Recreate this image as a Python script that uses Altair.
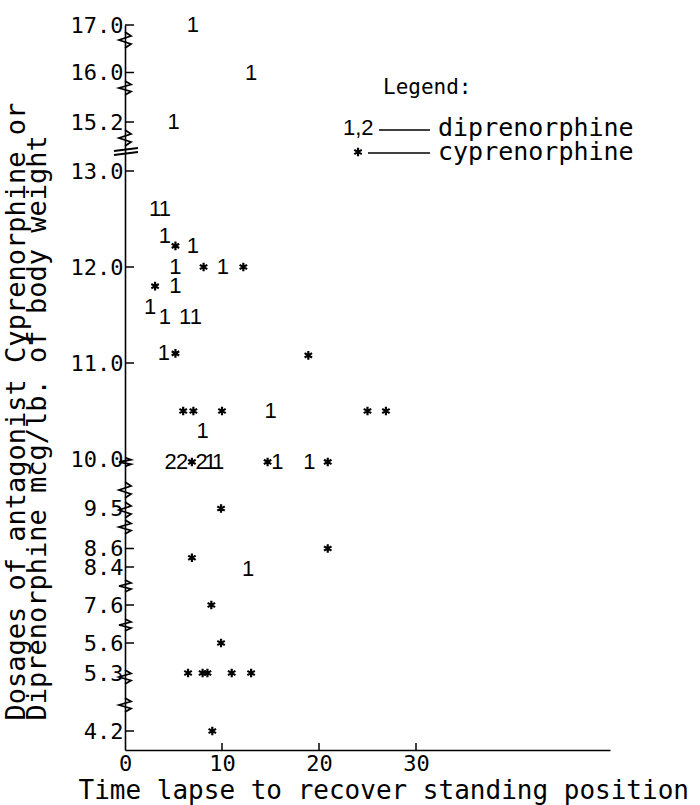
import altair as alt
import numpy as np
import pandas as pd

# ---------------- data ----------------
dip_time = [7.0, 13.0, 5.0, 3.1, 4.1, 4.1, 7.0, 5.2, 10.1, 5.2, 2.6, 4.1, 6.2, 7.3,
            4.0, 15.0, 8.0, 4.7, 5.9, 7.9, 8.8, 9.6, 15.7, 19.0, 12.7]
dip_dose = [17.0, 16.0, 15.2, 12.6, 12.6, 12.32, 12.22, 12.0, 12.0, 11.8, 11.58, 11.48, 11.48, 11.48,
            11.1, 10.5, 10.29, 9.97, 9.97, 9.97, 9.97, 9.97, 9.97, 9.97, 8.35]
dip_label = ["1", "1", "1", "1", "1", "1", "1", "1", "1", "1", "1", "1", "1", "1",
             "1", "1", "1", "2", "2", "2", "1", "1", "1", "1", "1"]

cyp_time = [5.2, 8.1, 12.2, 3.1, 5.2, 18.9, 6.0, 7.05, 10.0, 25.0, 26.9, 6.9, 14.7, 20.9,
            9.9, 6.9, 20.9, 8.9, 9.9, 6.5, 8.0, 8.5, 11.0, 13.0, 9.0]
cyp_dose = [12.22, 12.0, 12.0, 11.8, 11.1, 11.08, 10.5, 10.5, 10.5, 10.5, 10.5, 9.97, 9.97, 9.97,
            9.5, 8.5, 8.6, 7.6, 5.6, 5.3, 5.3, 5.3, 5.3, 5.3, 4.2]

y_tick_values = [17.0, 16.0, 15.2, 13.0, 12.0, 11.0, 10.0, 9.5, 8.6, 8.4, 7.6, 5.6, 5.3, 4.2]
y_tick_marks = [17.0, 16.0, 15.2, 13.0, 12.0, 11.0, 8.6, 8.4, 7.6, 5.6, 4.2]
x_tick_values = [0, 10, 20, 30]

x_title = "Time lapse to recover standing position"
y_title = ["Dosages of antagonist Cyprenorphine or", "Diprenorphine mcg/lb. of body weight"]
legend_heading = "Legend:"
legend_keys = ["1,2", "*"]
legend_names = ["diprenorphine", "cyprenorphine"]

# ---------------- layout ----------------
PAD_L, PAD_T = 125, 20
W, H = 485, 730
X_MAX = 50
PX_PER_T = W / X_MAX
# broken (piecewise) dosage axis: domain breakpoints -> pixel rows
y_domain = [3.85, 4.2, 5.3, 5.6, 7.6, 8.4, 8.6, 9.5, 10.0, 13.0, 15.2, 16.0, 17.0]
y_range = [730, 711, 653, 623, 585, 547, 528.5, 488.5, 439, 151, 102, 52.5, 5]

FONT = "DejaVu Sans Mono"
MARK_FONT = "Liberation Sans"
STAR = "M0,-1L0,1M-0.866,-0.5L0.866,0.5M-0.866,0.5L0.866,-0.5"

xs = alt.Scale(domain=[0, X_MAX], range=[0, W], nice=False, zero=False)
ys = alt.Scale(domain=y_domain, range=y_range, nice=False, zero=False)

x_axis = alt.Axis(
    values=x_tick_values, title=x_title, format="d", ticks=False, grid=False,
    domainColor="black", domainWidth=1.6, labelFont=FONT, labelFontSize=22, labelColor="black",
    labelPadding=3, labelFlush=False, titleFont=FONT, titleFontSize=26, titleFontWeight="normal",
    titleColor="black", titleAnchor="start", titleAlign="left", titleX=-47, titleY=40,
    titleBaseline="middle")
y_axis = alt.Axis(
    values=y_tick_values, format=".1f", ticks=False, grid=False, labelOverlap=False,
    domainColor="black", domainWidth=1.6, labelFont=FONT, labelFontSize=22, labelColor="black",
    labelPadding=2, labelFlush=False, title=y_title, titleFont=FONT, titleFontSize=27,
    titleFontWeight="normal", titleColor="black", titleAngle=270, titleAlign="left",
    titleBaseline="top", titleAnchor="start", titleX=-122, titleY=700, titleLineHeight=21)

px_inc = y_range[::-1]
dose_inc = y_domain[::-1]


def px_to_dose(py):
    return float(np.interp(py, px_inc, dose_inc))


# axis-break zigzags (decoration), centres/heights in plot pixels
breaks = [(20, 16), (68, 14), (118, 16), (442, 9), (470, 16), (490, 16), (507, 14), (566, 12),
          (605, 12), (657, 14), (685, 14)]
zig_rows = []
for g, (c, h) in enumerate(breaks):
    n = 3
    pts = [(0.0, c - h / 2)]
    for k in range(1, n + 1):
        pts.append((6 if k % 2 else -6, c - h / 2 + h * k / (n + 1)))
    pts.append((0.0, c + h / 2))
    for i, (dx, py) in enumerate(pts):
        zig_rows.append({"g": g, "i": i, "t": dx / PX_PER_T, "dose": px_to_dose(py)})
# the double slash across the axis between 15.2 and 13.0
for g, (x0, y0, x1, y1) in enumerate([(-11, 131, 13, 128), (-11, 135, 13, 132)]):
    zig_rows.append({"g": 100 + g, "i": 0, "t": x0 / PX_PER_T, "dose": px_to_dose(y0)})
    zig_rows.append({"g": 100 + g, "i": 1, "t": x1 / PX_PER_T, "dose": px_to_dose(y1)})
zig = pd.DataFrame(zig_rows)

dip = pd.DataFrame({"t": dip_time, "dose": dip_dose, "sym": dip_label})
cyp = pd.DataFrame({"t": cyp_time, "dose": cyp_dose})

# ---------------- layers ----------------
dip_layer = alt.Chart(dip).mark_text(font=MARK_FONT, fontSize=22, color="black", baseline="middle").encode(
    x=alt.X("t:Q", scale=xs, axis=x_axis),
    y=alt.Y("dose:Q", scale=ys, axis=y_axis),
    text="sym:N",
)

cyp_layer = alt.Chart(cyp).mark_point(shape=STAR, filled=False, color="black", strokeWidth=2.2,
                                      size=75, opacity=1).encode(
    x=alt.X("t:Q", scale=xs, axis=x_axis),
    y=alt.Y("dose:Q", scale=ys, axis=y_axis),
)

ytick_layer = alt.Chart(pd.DataFrame({"dose": y_tick_marks})).mark_rule(color="black", strokeWidth=1.5).encode(
    y=alt.Y("dose:Q", scale=ys, axis=y_axis), x=alt.value(0), x2=alt.value(9))

xtick_layer = alt.Chart(pd.DataFrame({"t": x_tick_values[1:]})).mark_rule(color="black", strokeWidth=1.5).encode(
    x=alt.X("t:Q", scale=xs, axis=x_axis), y=alt.value(H), y2=alt.value(H - 7))

zig_layer = alt.Chart(zig).mark_line(color="black", strokeWidth=1.8).encode(
    x=alt.X("t:Q", scale=xs, axis=x_axis),
    y=alt.Y("dose:Q", scale=ys, axis=y_axis),
    detail="g:N", order="i:Q")

one = pd.DataFrame({"a": [0]})
leg_head = alt.Chart(one).mark_text(font=FONT, fontSize=21, align="left", baseline="middle", color="black").encode(
    x=alt.value(258), y=alt.value(68), text=alt.value(legend_heading))
leg_key1 = alt.Chart(one).mark_text(font=MARK_FONT, fontSize=22, align="left", baseline="middle", color="black").encode(
    x=alt.value(218), y=alt.value(108), text=alt.value(legend_keys[0]))
leg_line1 = alt.Chart(one).mark_rule(color="black", strokeWidth=1.5).encode(
    x=alt.value(254), x2=alt.value(305), y=alt.value(110))
leg_name1 = alt.Chart(one).mark_text(font=FONT, fontSize=25, align="left", baseline="middle", color="black").encode(
    x=alt.value(313), y=alt.value(108), text=alt.value(legend_names[0]))
leg_key2 = alt.Chart(one).mark_point(shape=STAR, filled=False, color="black", strokeWidth=2.2, size=75,
                                     opacity=1).encode(x=alt.value(233), y=alt.value(132))
leg_line2 = alt.Chart(one).mark_rule(color="black", strokeWidth=1.5).encode(
    x=alt.value(243), x2=alt.value(305), y=alt.value(133))
leg_name2 = alt.Chart(one).mark_text(font=FONT, fontSize=25, align="left", baseline="middle", color="black").encode(
    x=alt.value(313), y=alt.value(132), text=alt.value(legend_names[1]))

chart = alt.layer(
    dip_layer, cyp_layer, ytick_layer, xtick_layer, zig_layer,
    leg_head, leg_key1, leg_line1, leg_name1, leg_key2, leg_line2, leg_name2,
).properties(
    width=W, height=H,
    autosize=alt.AutoSizeParams(type="none"),
    padding={"left": PAD_L, "top": PAD_T, "right": 700 - PAD_L - W, "bottom": 805 - PAD_T - H},
    background="white",
).configure_view(strokeWidth=0)

chart.save("out.html", embed_options={"renderer": "svg", "actions": False})
